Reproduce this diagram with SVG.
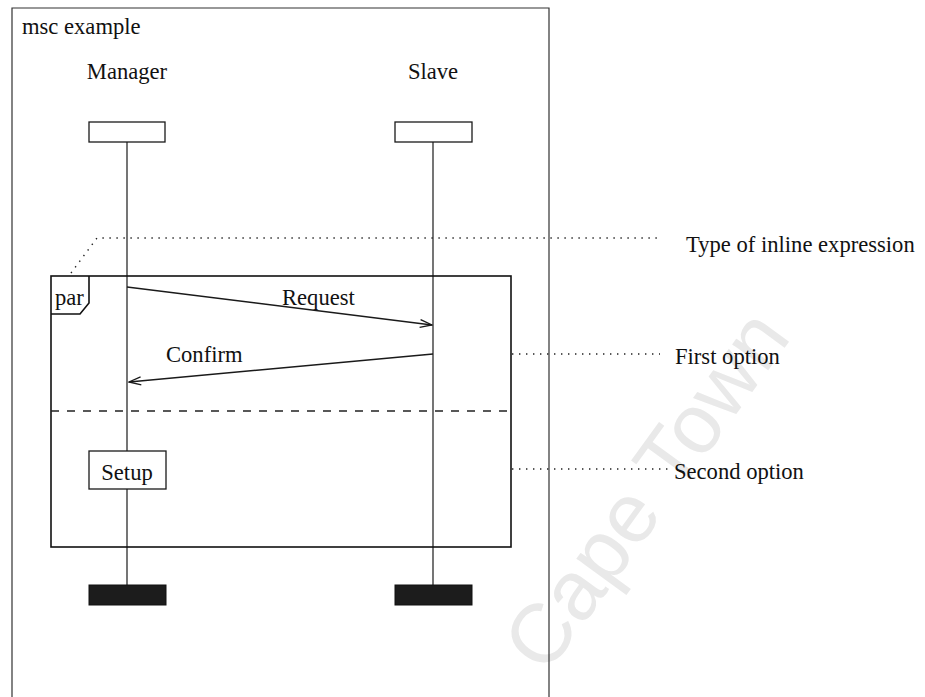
<svg xmlns="http://www.w3.org/2000/svg" width="925" height="697" viewBox="0 0 925 697">
  <defs>
    <marker id="open-arrow" markerWidth="14" markerHeight="10" refX="13" refY="5" orient="auto" markerUnits="userSpaceOnUse">
      <path d="M1,1 L13,5 L1,9" fill="none" stroke="#1a1a1a" stroke-width="1.3"/>
    </marker>
  </defs>
  <style>
    text { font-family: "Liberation Serif", "Times New Roman", serif; font-size: 22.6px; fill: #111; }
    .mid { text-anchor: middle; }
    .box { fill: #fff; stroke: #1a1a1a; stroke-width: 1.3; }
    .end { fill: #1c1c1c; stroke: #111; stroke-width: 1; }
    .life { stroke: #1a1a1a; stroke-width: 1.2; fill: none; }
    .msg { stroke: #1a1a1a; stroke-width: 1.4; fill: none; marker-end: url(#open-arrow); }
    .frame { fill: none; stroke: #333; stroke-width: 1.2; }
    .inline { fill: none; stroke: #111; stroke-width: 1.6; }
    .sep { stroke: #222; stroke-width: 1.3; stroke-dasharray: 8 8; }
    .leader { fill: none; stroke: #222; stroke-width: 1.4; stroke-dasharray: 1.4 5.6; }
    .wm { font-family: "Liberation Sans", Arial, sans-serif; font-size: 84px; fill: #e9e9e9; }
  </style>

  <rect width="925" height="697" fill="#fff"/>

  <!-- background watermark -->
  <text class="wm" x="546" y="676" transform="rotate(-54 546 676)">Cape Town</text>

  <!-- diagram frame -->
  <g id="msc-frame">
    <path class="frame" d="M12,705 L12,8 L549,8 L549,705"/>
    <text x="22" y="34">msc example</text>
  </g>

  <!-- instance heads and lifelines -->
  <g id="manager">
    <text class="mid" x="127" y="79">Manager</text>
    <rect class="box" x="89" y="122" width="76" height="20"/>
    <line class="life" x1="127" y1="142" x2="127" y2="451"/>
    <line class="life" x1="127" y1="489" x2="127" y2="585"/>
  </g>
  <g id="slave">
    <text class="mid" x="433" y="79">Slave</text>
    <rect class="box" x="395" y="122" width="77" height="20"/>
    <line class="life" x1="433" y1="142" x2="433" y2="585"/>
  </g>

  <!-- inline expression (par) -->
  <g id="par-expression">
    <rect class="inline" x="51" y="276" width="460" height="271"/>
    <path class="inline" d="M89,276 L89,303 L80,314 L51,314"/>
    <text x="55" y="305">par</text>
    <line class="sep" x1="51" y1="411" x2="511" y2="411"/>
  </g>

  <!-- local action -->
  <g id="setup">
    <rect class="box" x="89" y="451" width="77" height="38"/>
    <text class="mid" x="127" y="480">Setup</text>
  </g>

  <!-- instance ends -->
  <g id="manager-end">
    <rect class="end" x="89" y="585" width="77" height="20"/>
  </g>
  <g id="slave-end">
    <rect class="end" x="395" y="585" width="77" height="20"/>
  </g>

  <!-- messages -->
  <g id="connectors">
    <line class="msg" x1="127" y1="287" x2="432" y2="325"/>
    <line class="msg" x1="433" y1="354" x2="129" y2="382"/>
    <text x="282" y="305">Request</text>
    <text x="166" y="362">Confirm</text>
  </g>

  <!-- annotations -->
  <g id="annotations">
    <path class="leader" d="M71,273 L97,238 L657,238"/>
    <text x="686" y="252">Type of inline expression</text>
    <line class="leader" x1="512" y1="354" x2="660" y2="354"/>
    <text x="675" y="364">First option</text>
    <line class="leader" x1="512" y1="469" x2="672" y2="469"/>
    <text x="674" y="479">Second option</text>
  </g>
</svg>
